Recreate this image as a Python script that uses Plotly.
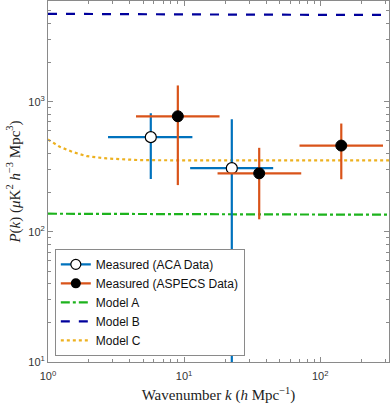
import plotly.graph_objects as go

# measured power spectrum points (k in h/Mpc, P in uK^2 h^-3 Mpc^3)
aca_k = [5.69, 22.4]
aca_k_lo = [2.76, 11.07]
aca_k_hi = [11.5, 45.1]
aca_p = [535, 309]
aca_p_lo = [255, -120]
aca_p_hi = [817, 735]

aspecs_k = [8.99, 35.6, 142.7]
aspecs_k_lo = [4.43, 17.6, 70.4]
aspecs_k_hi = [18.2, 72.5, 289]
aspecs_p = [774, 282, 461]
aspecs_p_lo = [229, 125, 254]
aspecs_p_hi = [1336, 443, 681]

# model curves
model_k = [1, 1.22, 1.53, 1.93, 2.7, 4.75, 10, 30, 100, 320]
model_a = [138, 138, 138, 137.5, 137.5, 137, 137, 136.5, 136, 136]
model_b = [4750, 4750, 4740, 4730, 4720, 4710, 4700, 4680, 4660, 4650]
model_c = [513, 451, 410, 382, 367, 356, 355, 355, 355, 355]

BLUE = "#0072BD"
ORANGE = "#D95319"
GOLD = "#EDB120"
GREEN = "#1DB31D"
NAVY = "#00009C"

fig = go.Figure()

fig.add_trace(go.Scatter(x=model_k, y=model_a, mode="lines", name="Model A",
                         line=dict(color=GREEN, width=2.2, dash="dashdot"),
                         legendrank=3))
fig.add_trace(go.Scatter(x=model_k, y=model_b, mode="lines", name="Model B",
                         line=dict(color=NAVY, width=2.2, dash="dash"),
                         legendrank=4))
fig.add_trace(go.Scatter(x=model_k, y=model_c, mode="lines", name="Model C",
                         line=dict(color=GOLD, width=2.2, dash="dot"),
                         legendrank=5))


def errs(vals, lo, hi):
    return ([h - v for v, h in zip(vals, hi)], [v - l for v, l in zip(vals, lo)])


ex_p, ex_m = errs(aca_k, aca_k_lo, aca_k_hi)
ey_p, ey_m = errs(aca_p, aca_p_lo, aca_p_hi)
fig.add_trace(go.Scatter(
    x=aca_k, y=aca_p, mode="markers", showlegend=False,
    marker=dict(symbol="circle", size=11, color="white", line=dict(color="black", width=1.2)),
    error_x=dict(type="data", symmetric=False, array=ex_p, arrayminus=ex_m,
                 color=BLUE, thickness=2.2, width=0),
    error_y=dict(type="data", symmetric=False, array=ey_p, arrayminus=ey_m,
                 color=BLUE, thickness=2.2, width=0),
))

ex_p, ex_m = errs(aspecs_k, aspecs_k_lo, aspecs_k_hi)
ey_p, ey_m = errs(aspecs_p, aspecs_p_lo, aspecs_p_hi)
fig.add_trace(go.Scatter(
    x=aspecs_k, y=aspecs_p, mode="markers", showlegend=False,
    marker=dict(symbol="circle", size=11, color="black", line=dict(color="black", width=1)),
    error_x=dict(type="data", symmetric=False, array=ex_p, arrayminus=ex_m,
                 color=ORANGE, thickness=2.2, width=0),
    error_y=dict(type="data", symmetric=False, array=ey_p, arrayminus=ey_m,
                 color=ORANGE, thickness=2.2, width=0),
))

# legend entries for the measured data (line through marker)
fig.add_trace(go.Scatter(x=[None], y=[None], mode="lines+markers",
                         name="Measured (ACA Data)", legendrank=1,
                         line=dict(color=BLUE, width=2.2),
                         marker=dict(size=10, color="white", line=dict(color="black", width=1.2))))
fig.add_trace(go.Scatter(x=[None], y=[None], mode="lines+markers",
                         name="Measured (ASPECS Data)", legendrank=2,
                         line=dict(color=ORANGE, width=2.2),
                         marker=dict(size=10, color="black")))

axis_common = dict(
    type="log", showline=True, linecolor="#8a8a8a", linewidth=1, mirror="ticks",
    ticks="inside", ticklen=5, tickcolor="#8a8a8a", showgrid=False, zeroline=False,
    automargin=False,
    tickfont=dict(family="Liberation Sans", size=11, color="#333"),
    minor=dict(ticks="inside", ticklen=3, tickcolor="#8a8a8a", dtick="D1", showgrid=False),
)

fig.update_xaxes(
    **axis_common, range=[0, 2.505], ticklabelstandoff=4,
    tickvals=[1, 10, 100], ticktext=["10<sup>0</sup>", "10<sup>1</sup>", "10<sup>2</sup>"],
    title=dict(text="Wavenumber <i>k</i> (<i>h</i> Mpc<sup>−1</sup>)",
               font=dict(family="Liberation Serif", size=15, color="#222"), standoff=8),
)
fig.update_yaxes(
    **axis_common, range=[1, 3.775],
    tickvals=[10, 100, 1000], ticktext=["10<sup>1</sup>", "10<sup>2</sup>", "10<sup>3</sup>"],
    title=dict(text="<i>P</i>(<i>k</i>) (<i>μ</i>K<sup>2</sup> <i>h</i><sup>−3</sup> Mpc<sup>3</sup>)",
               font=dict(family="Liberation Serif", size=15, color="#222"), standoff=4),
)

fig.update_layout(
    width=390, height=405,
    margin=dict(l=48, r=1, t=1, b=43),
    plot_bgcolor="white", paper_bgcolor="white",
    legend=dict(x=0.02, y=0.017, xanchor="left", yanchor="bottom",
                bgcolor="white", bordercolor="#8a8a8a", borderwidth=1,
                font=dict(family="Liberation Sans", size=12, color="#111"),
                itemwidth=30, tracegroupgap=0),
)

fig.write_html("out.html", config={"displayModeBar": False},
               post_script="document.body.style.margin='0';")
